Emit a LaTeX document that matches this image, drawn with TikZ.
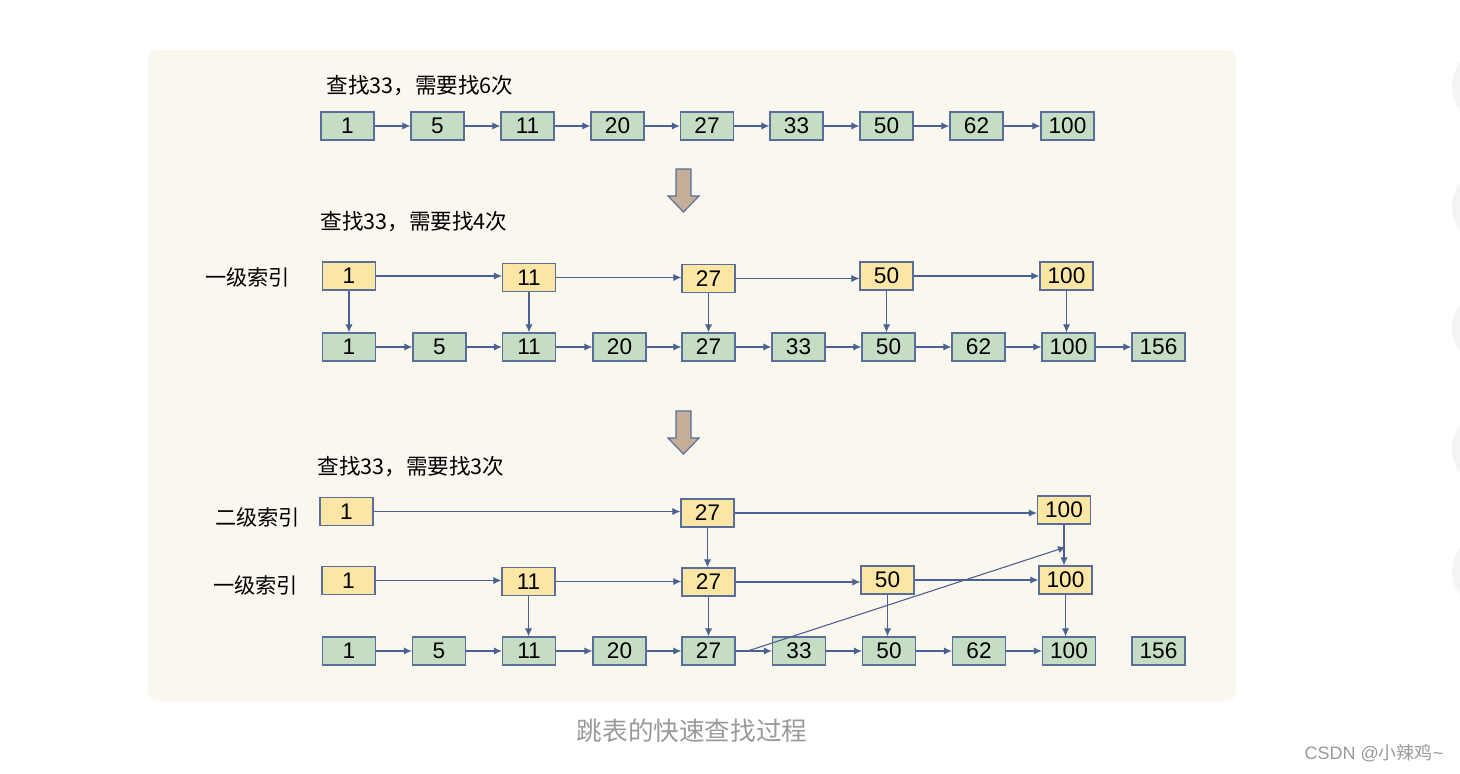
\documentclass[tikz,border=0pt]{standalone}
\usepackage{fontspec}
\setmainfont{Liberation Sans}
\newfontfamily\cjk{Noto Sans CJK SC}
\usetikzlibrary{arrows.meta}
\definecolor{panel}{HTML}{FAF8EE}
\definecolor{gfill}{HTML}{C6DDC5}
\definecolor{yfill}{HTML}{FCE6A4}
\definecolor{bord}{HTML}{5A6E9C}
\definecolor{lnk}{HTML}{4A6293}
\definecolor{bigfill}{HTML}{C4AE98}
\definecolor{cap}{HTML}{9A9A9A}
\definecolor{sidec}{HTML}{F3F4F6}
\tikzset{
  box/.style={draw=bord, line width=0.6pt, minimum width=26.5pt, minimum height=14pt, inner sep=0pt, font=\fontsize{11.3}{12}\selectfont},
  gbox/.style={box, fill=gfill},
  ybox/.style={box, fill=yfill},
  lnkarrow/.style={draw=lnk, line width=0.55pt, -{Latex[length=4pt,width=3.6pt]}},
  title/.style={anchor=west, inner sep=0pt, font=\cjk\fontsize{10.8}{12}\selectfont},
  lvl/.style={inner sep=0pt, font=\cjk\fontsize{10.6}{12}\selectfont},
  bigarrow/.style={fill=bigfill, draw=bord, line width=0.6pt, line join=miter}
}
\begin{document}
\begin{tikzpicture}[x=0.5pt,y=-0.5pt]
\useasboundingbox (0,0) rectangle (1460,774);
\fill[white] (0,0) rectangle (1460,774);
% side decorations
\foreach \cy in {86,207,328,449,571}{
  \fill[sidec] (1490.5,\cy) circle[radius=38.5];
}
% panel
\fill[panel, rounded corners=5pt] (148,50) rectangle (1236,701);

% ---------- section 1 ----------
\node[title] (t1) at (326,86) {查找33，需要找6次};
\foreach \n/\x in {1/347.5,5/437.5,11/527.5,20/617.5,27/707,33/796.5,50/886.5,62/976.5,100/1067.5}{
  \node[gbox] (a\n) at (\x,126) {\n};
}
\foreach \p/\q in {1/5,5/11,11/20,20/27,27/33,33/50,50/62,62/100}{
  \draw[lnkarrow] (a\p.east) -- (a\p.east -| a\q.west);
}
% big arrow 1
\draw[bigarrow] (676,169) -- (691,169) -- (691,196) -- (699,196) -- (683.5,212) -- (668,196) -- (676,196) -- cycle;

% ---------- section 2 ----------
\node[title] (t2) at (320,222) {查找33，需要找4次};
\node[lvl] (l2a) at (247.5,277) {一级索引};
\foreach \n/\x/\y in {1/349/276,11/529/277.5,27/708.5/278.5,50/886.5/276,100/1066.5/276}{
  \node[ybox] (bi\n) at (\x,\y) {\n};
}
\foreach \n/\x in {1/349,5/439.5,11/529,20/619.5,27/708.5,33/798.5,50/888.5,62/978.5,100/1068.5,156/1158.5}{
  \node[gbox] (b\n) at (\x,347) {\n};
}
\foreach \p/\q in {1/11,11/27,27/50,50/100}{
  \draw[lnkarrow] (bi\p.east) -- (bi\p.east -| bi\q.west);
}
\foreach \p/\q in {1/5,5/11,11/20,20/27,27/33,33/50,50/62,62/100,100/156}{
  \draw[lnkarrow] (b\p.east) -- (b\p.east -| b\q.west);
}
\foreach \n in {1,11,27,50,100}{
  \draw[lnkarrow] (bi\n.south) -- (bi\n.south |- b\n.north);
}
% big arrow 2
\draw[bigarrow] (676,411) -- (691,411) -- (691,438) -- (699,438) -- (683.5,454) -- (668,438) -- (676,438) -- cycle;

% ---------- section 3 ----------
\node[title] (t3) at (317,467) {查找33，需要找3次};
\node[lvl] (l3b) at (257.5,517) {二级索引};
\node[lvl] (l3a) at (255.5,585) {一级索引};
\foreach \n/\x/\y in {1/346.5/511.5,27/707.5/513,100/1064/510}{
  \node[ybox] (cs\n) at (\x,\y) {\n};
}
\foreach \n/\x/\y in {1/348.5/580.5,11/528.5/581.5,27/708.5/582,50/887.5/580,100/1065.5/580}{
  \node[ybox] (ci\n) at (\x,\y) {\n};
}
\foreach \n/\x in {1/349,5/439,11/529,20/619.5,27/708.5,33/799,50/889,62/979,100/1069,156/1158.5}{
  \node[gbox] (c\n) at (\x,651) {\n};
}
\draw[lnkarrow] (cs1.east) -- (cs1.east -| cs27.west);
\draw[lnkarrow] (cs27.east) -- (cs27.east -| cs100.west);
\foreach \p/\q in {1/11,11/27,27/50,50/100}{
  \draw[lnkarrow] (ci\p.east) -- (ci\p.east -| ci\q.west);
}
\foreach \p/\q in {1/5,5/11,11/20,20/27,27/33,33/50,50/62,62/100}{
  \draw[lnkarrow] (c\p.east) -- (c\p.east -| c\q.west);
}
\draw[lnkarrow] (cs27.south) -- (cs27.south |- ci27.north);
\draw[lnkarrow] (cs100.south) -- (cs100.south |- ci100.north);
\foreach \n in {11,27,50,100}{
  \draw[lnkarrow] (ci\n.south) -- (ci\n.south |- c\n.north);
}
\coordinate (dstart) at ([xshift=6pt]c27.east);
\coordinate (dend) at (1066,547);
\draw[lnkarrow] (dstart) -- (dend);

% caption and watermark
\node[inner sep=0pt, text=cap, font=\cjk\fontsize{12.8}{14}\selectfont] (caption) at (692,731) {跳表的快速查找过程};
\node[inner sep=0pt, text=cap, font=\fontsize{9}{10}\selectfont] (wm) at (1374,753) {CSDN @{\cjk 小辣鸡}\textasciitilde};
\end{tikzpicture}
\end{document}
